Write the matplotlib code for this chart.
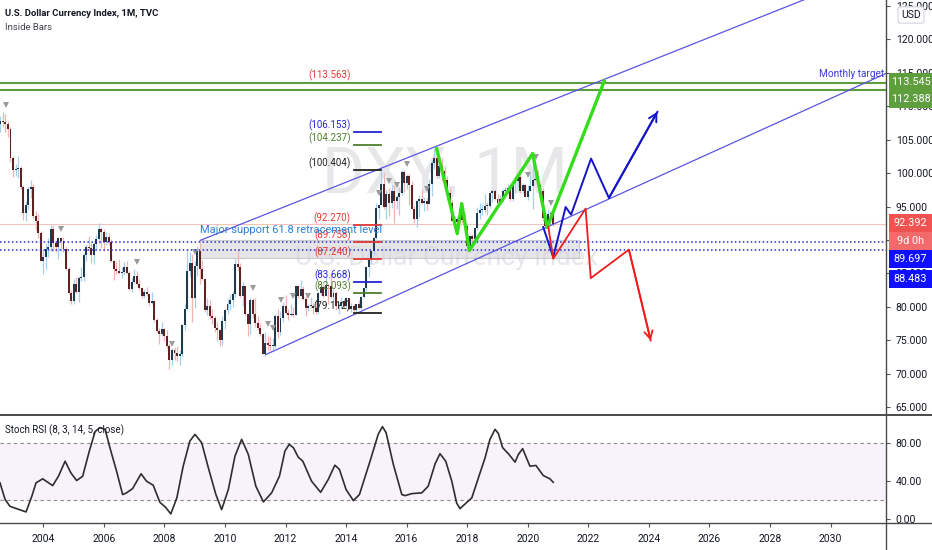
import matplotlib
matplotlib.use('Agg')
import matplotlib.pyplot as plt
import matplotlib.transforms as mtransforms
from matplotlib.lines import Line2D
from matplotlib.patches import Rectangle
import numpy as np

plt.rcParams['font.family'] = ['Liberation Sans Narrow', 'Roboto', 'DejaVu Sans']

# monthly candles, Jul 2002 .. Nov 2020 (open = previous close)
start_year, start_month = 2002, 7
first_open = 106.5
closes = [
    107.3, 107.8, 107.6, 107.3, 106.6, 102.2,
    100.5, 100.6, 100.7, 98.0, 94.0, 95.2, 97.6, 97.9, 93.6, 92.9, 91.0, 86.9,
    87.4, 88.7, 88.9, 91.6, 89.6, 89.0, 90.3, 89.9, 88.6, 85.7, 82.1, 80.9,
    83.4, 82.3, 84.4, 84.5, 87.7, 89.0, 88.8, 87.7, 89.4, 90.1, 91.7, 91.2,
    89.7, 90.5, 89.7, 86.9, 85.6, 85.3, 85.1, 85.2, 85.9, 85.0, 82.7, 83.7,
    84.6, 83.5, 82.8, 81.6, 82.2, 82.0, 80.6, 80.9, 78.0, 76.4, 76.0, 76.7,
    75.6, 74.1, 72.0, 73.6, 73.1, 72.6, 73.0, 77.3, 79.7, 85.4, 86.5, 81.3,
    86.1, 88.3, 85.6, 84.2, 79.5, 80.1, 78.6, 78.4, 76.9, 76.5, 75.0, 77.9,
    79.5, 80.4, 81.0, 81.9, 86.4, 86.0, 81.6, 83.1, 78.9, 77.4, 81.0, 79.0,
    77.6, 76.8, 75.9, 73.0, 74.6, 74.3, 74.1, 74.2, 78.6, 76.2, 78.4, 80.2,
    79.1, 78.8, 79.0, 78.8, 83.1, 81.6, 82.7, 81.2, 79.9, 80.2, 80.2, 79.8,
    79.2, 82.1, 83.0, 81.6, 83.3, 83.1, 81.5, 82.1, 80.2, 80.2, 80.7, 80.2,
    81.3, 79.7, 80.1, 79.5, 80.4, 79.8, 81.5, 82.8, 86.0, 87.0, 88.4, 90.3,
    94.8, 95.3, 98.4, 95.0, 96.9, 95.5, 97.3, 95.9, 96.4, 97.0, 100.2, 98.6,
    99.6, 98.2, 94.6, 93.1, 95.9, 96.1, 95.5, 95.9, 95.4, 98.4, 101.5, 102.2,
    99.5, 101.1, 100.3, 99.0, 97.0, 95.6, 92.9, 92.7, 93.1, 94.6, 93.0, 92.1,
    89.1, 90.6, 90.2, 91.8, 94.0, 94.5, 94.5, 95.1, 95.1, 97.1, 97.3, 96.2,
    95.6, 96.2, 97.3, 97.5, 97.8, 96.1, 98.5, 98.9, 99.4, 97.4, 98.3, 96.4,
    97.4, 98.1, 99.0, 99.0, 98.3, 97.4, 93.3, 92.1, 93.9, 94.0, 92.4,
]
highs = [
    108.7, 108.6, 109.2, 108.8, 107.8, 106.9,
    102.6, 101.4, 102.5, 101.0, 98.3, 95.8, 98.1, 99.0, 98.4, 94.3, 93.9, 91.3,
    88.6, 89.5, 90.3, 92.2, 92.3, 89.8, 90.4, 90.4, 90.4, 89.1, 85.9, 82.6,
    84.2, 84.5, 84.7, 85.9, 88.0, 89.4, 90.6, 89.6, 89.9, 90.8, 92.6, 92.0,
    91.6, 91.2, 91.0, 90.1, 87.0, 86.8, 87.1, 85.9, 86.7, 86.9, 85.3, 84.4,
    85.6, 85.3, 84.2, 82.9, 82.7, 83.0, 82.0, 82.3, 81.0, 78.4, 76.9, 77.8,
    76.8, 76.5, 74.4, 73.9, 74.0, 74.1, 73.5, 77.5, 80.4, 88.5, 88.2, 87.9,
    86.8, 89.1, 89.6, 87.0, 84.2, 81.3, 81.1, 79.7, 78.6, 77.8, 76.7, 78.6,
    79.8, 81.3, 82.0, 82.4, 87.1, 88.7, 86.5, 83.7, 83.2, 79.1, 81.4, 81.4,
    81.3, 78.6, 77.6, 76.1, 76.3, 75.7, 75.5, 75.4, 78.9, 79.7, 79.4, 80.8,
    81.8, 79.7, 80.4, 80.0, 83.3, 83.1, 84.1, 83.1, 81.7, 80.5, 81.5, 80.6,
    80.9, 82.3, 83.2, 83.4, 84.5, 83.4, 84.8, 82.7, 82.4, 80.6, 81.5, 81.2,
    81.5, 81.4, 80.6, 80.4, 80.5, 81.0, 81.6, 82.9, 86.1, 87.2, 88.5, 90.4,
    95.5, 95.3, 100.4, 100.0, 97.5, 97.8, 98.2, 98.3, 96.7, 97.9, 100.5, 100.5,
    99.9, 99.8, 98.8, 95.1, 96.0, 96.7, 97.6, 96.4, 96.3, 99.1, 102.0, 103.8,
    103.8, 101.7, 102.3, 101.1, 99.5, 97.8, 96.0, 93.6, 93.6, 95.1, 95.2, 94.0,
    92.5, 90.8, 90.9, 91.9, 95.0, 95.5, 95.3, 96.9, 95.7, 97.2, 97.7, 97.7,
    96.9, 96.8, 97.7, 97.9, 98.4, 97.8, 98.7, 99.4, 99.7, 99.7, 98.5, 98.4,
    98.2, 99.9, 103.0, 100.9, 100.4, 98.4, 97.8, 93.6, 94.7, 94.3, 94.3,
]
lows = [
    104.7, 106.2, 106.9, 106.2, 105.4, 101.7,
    99.4, 99.6, 99.2, 97.6, 93.0, 92.9, 94.6, 96.3, 93.3, 91.5, 90.3, 86.8,
    84.9, 85.7, 87.5, 88.4, 88.3, 88.2, 87.2, 88.4, 88.2, 85.5, 81.9, 80.4,
    80.5, 82.1, 80.7, 83.9, 83.9, 86.8, 88.3, 86.5, 86.4, 88.6, 89.6, 88.8,
    88.4, 89.3, 89.2, 86.7, 84.0, 84.9, 84.9, 84.3, 84.8, 84.9, 82.6, 82.3,
    83.6, 83.3, 82.6, 81.3, 81.4, 81.6, 80.1, 80.5, 77.8, 76.3, 74.5, 75.6,
    74.9, 73.9, 70.7, 71.3, 72.1, 71.9, 71.3, 72.7, 76.5, 79.6, 84.5, 77.7,
    79.8, 84.7, 83.4, 84.0, 79.3, 78.8, 78.2, 77.4, 76.3, 74.9, 74.2, 74.3,
    76.7, 78.9, 79.6, 80.0, 81.5, 85.5, 81.5, 80.1, 78.6, 75.6, 75.9, 78.4,
    77.0, 76.6, 75.6, 72.9, 72.7, 73.5, 73.4, 73.4, 73.8, 75.3, 75.8, 77.8,
    78.9, 78.1, 78.6, 78.5, 78.8, 81.3, 81.6, 81.1, 78.6, 79.4, 79.9, 79.0,
    78.9, 78.9, 81.8, 81.5, 81.6, 80.5, 81.3, 80.8, 79.6, 79.0, 79.8, 79.8,
    79.9, 79.6, 79.3, 79.2, 78.9, 79.7, 79.7, 81.3, 82.4, 84.5, 86.6, 87.6,
    90.1, 93.2, 95.2, 94.6, 93.1, 93.6, 94.8, 92.6, 94.6, 93.8, 96.8, 97.2,
    97.7, 95.2, 94.6, 92.6, 91.9, 93.4, 95.4, 94.4, 94.5, 95.6, 96.6, 100.6,
    99.2, 99.2, 98.9, 98.4, 96.8, 95.5, 92.8, 91.6, 90.9, 92.7, 92.5, 91.8,
    88.4, 88.3, 89.1, 89.4, 91.5, 93.2, 93.7, 94.2, 93.8, 94.8, 95.7, 96.0,
    95.0, 95.2, 95.7, 96.8, 97.1, 95.8, 95.8, 97.1, 97.9, 97.1, 97.1, 96.4,
    96.0, 97.3, 94.7, 98.8, 97.9, 95.7, 92.9, 91.8, 91.7, 92.5, 92.1,
]

# inside bar markers
inside_t = [2002.77, 2004.58, 2007.09, 2008.25, 2009.01, 2010.93, 2011.42, 2011.59,
            2011.85, 2012.25, 2012.74, 2015.09, 2015.42, 2015.68, 2016.01, 2016.67,
            2020.00, 2020.26, 2020.76]
inside_p = [110.2, 91.6, 86.7, 74.5, 88.2, 82.8, 77.4, 76.8, 81.1, 81.6, 81.7,
            97.1, 98.9, 98.2, 101.3, 97.7, 99.7, 102.4, 95.5]

# stoch RSI
stoch_t = [2002.57, 2002.74, 2002.90, 2003.12, 2003.43, 2003.62, 2003.76, 2003.98, 2004.31, 2004.50,
           2004.72, 2004.91, 2005.10, 2005.30, 2005.52, 2005.71, 2005.87, 2006.04, 2006.20, 2006.42,
           2006.62, 2006.75, 2006.95, 2007.23, 2007.41, 2007.63, 2007.85, 2008.04, 2008.21, 2008.41,
           2008.62, 2008.84, 2009.01, 2009.23, 2009.45, 2009.70, 2009.89, 2010.11, 2010.33, 2010.55,
           2010.77, 2011.02, 2011.27, 2011.54, 2011.80, 2011.98, 2012.12, 2012.26, 2012.42, 2012.57,
           2012.86, 2013.16, 2013.41, 2013.63, 2013.78, 2014.00, 2014.24, 2014.44, 2014.79, 2015.06,
           2015.20, 2015.32, 2015.56, 2015.84, 2015.95, 2016.17, 2016.50, 2016.71, 2016.94, 2017.10,
           2017.29, 2017.49, 2017.65, 2017.76, 2017.93, 2018.15, 2018.37, 2018.59, 2018.75, 2018.92,
           2019.03, 2019.17, 2019.36, 2019.58, 2019.69, 2019.83, 2020.07, 2020.27, 2020.51, 2020.73, 2020.84]
stoch_v = [37.9, 20.3, 13.3, 10.8, 7.4, 23.8, 37.9, 42.1, 35.0, 44.8,
           60.6, 48.4, 40.3, 44.8, 71.2, 91.6, 95.8, 94.0, 74.7, 50.1,
           25.6, 27.4, 31.9, 47.4, 39.6, 35.4, 17.5, 12.2, 5.3, 22.1,
           55.4, 81.7, 88.7, 80.0, 53.7, 25.6, 9.8, 30.8, 65.9, 83.5,
           67.7, 34.3, 17.9, 27.4, 45.0, 71.2, 78.2, 74.7, 64.8, 60.6,
           39.6, 28.0, 41.4, 56.4, 51.9, 30.8, 19.3, 25.6, 60.6, 88.7,
           96.8, 90.5, 57.2, 25.6, 24.5, 26.6, 27.4, 34.3, 57.9, 68.4,
           60.6, 39.6, 16.8, 10.8, 15.8, 22.1, 43.2, 64.2, 83.5, 94.0,
           89.5, 74.7, 68.4, 59.6, 67.7, 73.7, 55.4, 56.1, 45.6, 42.1, 38.5]

# drawings
channel_top_t, channel_top_p = [2009.18, 2030.0], [89.95, 127.5]
channel_bot_t, channel_bot_p = [2011.35, 2031.95], [72.89, 115.15]
green_t = [2016.99, 2017.67, 2017.82, 2018.07, 2020.16, 2020.64, 2022.53]
green_p = [103.68, 90.95, 95.45, 88.45, 102.93, 91.90, 113.80]
blue_t = [2020.51, 2020.84, 2021.25, 2021.43, 2022.09, 2022.68, 2024.28]
blue_p = [91.94, 87.45, 94.94, 93.80, 102.18, 96.29, 109.16]
red_t = [2020.68, 2020.84, 2021.91, 2022.08, 2023.34, 2024.06]
red_p = [91.94, 87.21, 94.70, 84.31, 88.56, 74.98]

fib_levels = [113.563, 106.153, 104.237, 100.404, 92.270, 89.758, 87.240, 83.668, 82.093, 79.112]
fib_colors = ['#e53935', '#2424d8', '#4f7f2a', '#222222', '#e53935', '#e53935', '#e53935',
              '#2424d8', '#4f7f2a', '#222222']
fib_t0, fib_t1 = 2014.26, 2015.15

target_hi, target_lo = 113.545, 112.388
last_price = 92.392
support_hi, support_lo = 89.697, 88.483
zone_t, zone_p = (2009.18, 2021.68), (87.36, 89.95)

year_ticks = list(range(2004, 2031, 2))
price_ticks = list(range(65, 126, 5))

W, H = 932, 550
fig = plt.figure(figsize=(W / 100, H / 100), dpi=100)
ax = fig.add_axes([0, 1 - 415 / H, 886 / W, 415 / H])
ax2 = fig.add_axes([0, 1 - 523 / H, 886 / W, 108 / H], sharex=ax)
txt = '#131722'

# ---- main pane
n = len(closes)
dates = np.array([start_year + (start_month - 1 + i) / 12 for i in range(n)])
c = np.array(closes)
o = np.array([first_open] + closes[:-1])
hi = np.maximum(np.array(highs), np.maximum(o, c))
lo = np.minimum(np.array(lows), np.minimum(o, c))
up = c >= o
ax.vlines(dates, lo, hi, colors=np.where(up, '#a8cfee', '#f3b3b3'), lw=0.9, zorder=3)
ax.bar(dates, np.maximum(np.abs(c - o), 0.15), bottom=np.minimum(o, c), width=0.065,
       color=np.where(up, '#1e3a4c', '#5e2222'), zorder=4)
ax.plot(inside_t, inside_p, 'v', color='#9a9a9a', ms=4.5, mew=0, zorder=5)

ax.text(0.502, 0.578, 'DXY, 1M', transform=ax.transAxes, ha='center', va='center',
        fontsize=47, color='#e7e7ea', zorder=0)
ax.text(0.504, 0.378, 'U.S. Dollar Currency Index', transform=ax.transAxes, ha='center',
        va='center', fontsize=19, color='#e7e7ea', zorder=0)

ax.axhline(target_hi, color='#5f9e3c', lw=1.5, zorder=6)
ax.axhline(target_lo, color='#5f9e3c', lw=1.5, zorder=6)
ax.axhline(last_price, color='#f5c0c0', lw=0.8, zorder=2)
for lvl in (support_hi, support_lo):
    ax.axhline(lvl, color='#2b2bd0', lw=1.1, ls=(0, (1, 1.6)), zorder=6)
ax.add_patch(Rectangle((zone_t[0], zone_p[0]), zone_t[1] - zone_t[0], zone_p[1] - zone_p[0],
                       fc='#d4d4da', ec='#b0b0b8', lw=0.8, alpha=0.6, zorder=2))

ax.plot(channel_top_t, channel_top_p, color='#5a55e0', lw=0.9, zorder=6)
ax.plot(channel_bot_t, channel_bot_p, color='#5a55e0', lw=0.9, zorder=6)

ax.plot(green_t, green_p, color='#33dd1a', lw=2.4, zorder=7, solid_capstyle='round')
ax.plot(blue_t, blue_p, color='#1414c8', lw=1.4, zorder=7)
ax.plot(red_t, red_p, color='#ee1c1c', lw=1.3, zorder=7)
for tt, pp, col, lw in ((blue_t, blue_p, '#1414c8', 1.4), (red_t, red_p, '#ee1c1c', 1.3)):
    ax.annotate('', xy=(tt[-1], pp[-1]), xytext=(tt[-2], pp[-2]),
                arrowprops=dict(arrowstyle='->,head_length=0.55,head_width=0.3', color=col,
                                lw=lw, shrinkA=0, shrinkB=0), zorder=7)

for i, (lvl, col) in enumerate(zip(fib_levels, fib_colors)):
    ax.text(fib_t0 - 0.1, lvl + 0.15, '(%.3f)' % lvl, color=col, fontsize=7,
            ha='right', va='bottom', zorder=8)
    if i > 0:
        ax.plot([fib_t0, fib_t1], [lvl, lvl], color=col, lw=1.3, zorder=8)

ax.text(zone_t[0], 91.45, 'Major support 61.8 retracement level', color='#2f7ed6',
        fontsize=8.0, ha='left', va='center', zorder=8)
ax.text(0.9975, 0.822, 'Monthly target', transform=ax.transAxes, color='#3c3cd8',
        fontsize=7.2, ha='right', va='center', zorder=8)
ax.text(5 / 886, 1 - 14 / 415, 'U.S. Dollar Currency Index, 1M, TVC', transform=ax.transAxes,
        color=txt, fontsize=6.8, fontweight='bold', ha='left', va='center')
ax.text(5 / 886, 1 - 27 / 415, 'Inside Bars', transform=ax.transAxes, color='#40434d',
        fontsize=6.8, ha='left', va='center')

ax.set_xlim(2002.57, 2031.83)
ax.set_ylim(63.85, 125.88)
ax.yaxis.tick_right()
ax.set_yticks(price_ticks)
ax.set_yticklabels(['%.3f' % v for v in price_ticks])
ax.tick_params(axis='y', direction='out', length=3, pad=4, labelsize=7.5, colors='#50535e',
               labelcolor=txt)
ax.tick_params(axis='x', bottom=False, labelbottom=False)
for s in ('left', 'top', 'bottom', 'right'):
    ax.spines[s].set_visible(False)

# right-side value tags
blend = mtransforms.blended_transform_factory(fig.transFigure, ax.transData)
tags = [('113.545', 113.65, '#5f9e3c'), ('112.388', 111.02, '#5f9e3c'),
        ('92.392', 92.54, '#f05252'), ('9d 0h', 89.85, '#f36a6a'),
        ('89.697', 87.15, '#1010ff'), ('88.483', 84.22, '#1010ff')]
for label, yc, col in tags:
    ax.add_patch(Rectangle((889 / W, yc - 1.35), 43 / W, 2.7, transform=blend, fc=col,
                           ec='none', clip_on=False, zorder=10))
    ax.text(910.5 / W, yc, label, transform=blend, color='white', fontsize=7.8,
            ha='center', va='center', clip_on=False, zorder=11)
fig.text(911 / W, 1 - 15 / H, 'USD', color=txt, fontsize=7.5, ha='center', va='center',
         bbox=dict(boxstyle='round,pad=0.3,rounding_size=0.2', fc='white', ec='#d0d3dc', lw=0.8),
         zorder=12)

# ---- stoch RSI pane
ax2.axhspan(20, 80, color='#f8f2fb', zorder=0)
for lvl in (80, 20):
    ax2.axhline(lvl, color='#8a8a8a', lw=0.8, ls=(0, (3, 3)), zorder=1)
ax2.plot(stoch_t, stoch_v, color='#2e2e2e', lw=1.2, zorder=3, solid_joinstyle='round')
ax2.text(5 / 886, 1 - 15 / 108, 'Stoch RSI (8, 3, 14, 5, close)', transform=ax2.transAxes,
         color=txt, fontsize=7.0, ha='left', va='center')
ax2.set_ylim(-4.2, 109)
ax2.yaxis.tick_right()
ax2.set_yticks([0, 40, 80])
ax2.set_yticklabels(['0.00', '40.00', '80.00'])
ax2.tick_params(axis='y', direction='out', length=3, pad=4, labelsize=7.5, colors='#50535e',
                labelcolor=txt)
ax2.set_xticks(year_ticks)
ax2.set_xticklabels([str(y) for y in year_ticks])
ax2.tick_params(axis='x', direction='out', length=3, pad=5, labelsize=7.5, colors='#50535e',
                labelcolor=txt)
for s in ('left', 'top', 'bottom', 'right'):
    ax2.spines[s].set_visible(False)

# pane separators and price scale border
fig.add_artist(Line2D([0, 1], [1 - 415 / H] * 2, color='#4a4a4a', lw=1.4))
fig.add_artist(Line2D([0, 1], [1 - 523 / H] * 2, color='#4a4a4a', lw=1.0))
fig.add_artist(Line2D([886 / W] * 2, [0, 1], color='#4a4a4a', lw=1.0))

fig.savefig('out.png', dpi=100, facecolor='white')
